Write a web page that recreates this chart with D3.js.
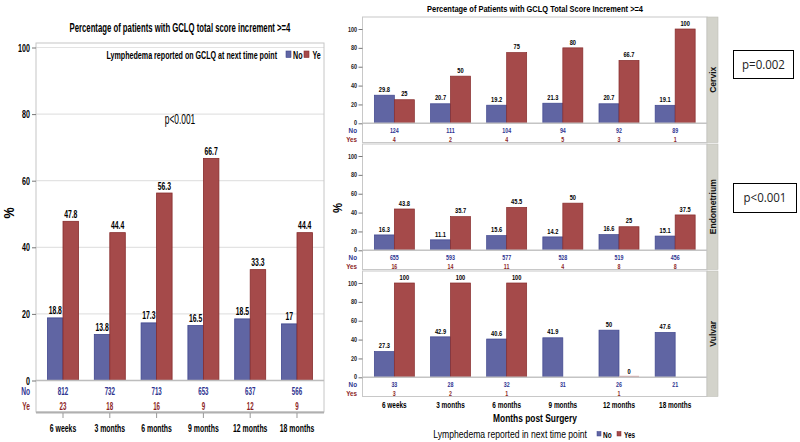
<!DOCTYPE html>
<html><head><meta charset="utf-8">
<script src="https://cdn.jsdelivr.net/npm/d3@7/dist/d3.min.js"></script>
<style>html,body{margin:0;padding:0;background:#fff}svg{display:block;font-family:"Liberation Sans",Arial,sans-serif}</style>
</head><body><svg id="c" width="800" height="442"></svg>
<script>
// ---------- data ----------
const categories = ["6 weeks","3 months","6 months","9 months","12 months","18 months"];
const groups = ["No","Yes"];
const ticks = [0,20,40,60,80,100];

// left chart: all patients
const allNo  = [18.8,13.8,17.3,16.5,18.5,17];
const allYes = [47.8,44.4,56.3,66.7,33.3,44.4];
const allCountNo  = [812,732,713,653,637,566];
const allCountYes = [23,18,16,9,12,9];

// right chart: by cancer site
const panelNames = ["Cervix","Endometrium","Vulvar"];
const cervixNo  = [29.8,20.7,19.2,21.3,20.7,19.1];
const cervixYes = [25,50,75,80,66.7,100];
const cervixCountNo  = [124,111,104,94,92,89];
const cervixCountYes = [4,2,4,5,3,1];
const endoNo  = [16.3,11.1,15.6,14.2,16.6,15.1];
const endoYes = [43.8,35.7,45.5,50,25,37.5];
const endoCountNo  = [655,593,577,528,519,456];
const endoCountYes = [16,14,11,4,8,8];
const vulvarNo  = [27.3,42.9,40.6,41.9,50,47.6];
const vulvarYes = [100,100,100,null,0,null];
const vulvarCountNo  = [33,28,32,31,26,21];
const vulvarCountYes = [3,2,1,null,1,null];
const pValues = ["p=0.002","p<0.001"];

const leftTitle = "Percentage of patients with GCLQ total score increment >=4";
const leftLegend = "Lymphedema reported on GCLQ at next time point";
const leftLegendKeys = ["No","Ye"];
const leftP = "p<0.001";
const rightTitle = "Percentage of Patients with GCLQ Total Score Increment >=4";
const rightXTitle = "Months post Surgery";
const rightLegend = "Lymphedema reported in next time point";

// ---------- styles ----------
const fillC = {No:"#6065a3", Yes:"#a54a4a"};
const strokeC = {No:"#3f468e", Yes:"#872c2c"};
const textC = {No:"#2e3390", Yes:"#8d1f1f"};

const svg = d3.select("#c");

function T(sel, x, y, s, o={}) {
  const sx = o.sx || 1;
  const tr = `translate(${x},${y})` + (o.rot ? " rotate(-90)" : "") + ` scale(${sx},1)`;
  return sel.append("text").attr("transform", tr)
    .attr("text-anchor", o.anchor || "middle")
    .attr("font-size", o.size || 10)
    .attr("font-weight", o.weight || "bold")
    .attr("font-family", o.family || null)
    .attr("fill", o.fill || "#000")
    .text(s);
}

// ================= LEFT CHART =================
const L = {x0:36, x1:324, top:43, zero:380.5, y100:47.5, bottom:412};
const SXL = 0.62;
const yL = d3.scaleLinear([0,100],[L.zero,L.y100]);
const xL = d3.scaleBand(categories,[L.x0,L.x1]).paddingInner(0).paddingOuter(0.077);
const xLs = d3.scaleBand(groups,[0,xL.bandwidth()]).paddingInner(0).paddingOuter(0.51);

const gl = svg.append("g");
T(gl, 180, 32, leftTitle, {size:12.5, sx:SXL});
// grid
gl.selectAll("line.grid").data(ticks.filter(t=>t>0)).join("line")
  .attr("x1",L.x0).attr("x2",L.x1).attr("y1",d=>yL(d)).attr("y2",d=>yL(d))
  .attr("stroke","#e3e3e3").attr("stroke-width",1.2);
// frame
gl.append("rect").attr("x",L.x0).attr("y",L.top).attr("width",L.x1-L.x0).attr("height",L.bottom-L.top)
  .attr("fill","none").attr("stroke","#c6c6c6").attr("stroke-width",1);
gl.append("line").attr("x1",L.x0).attr("x2",L.x1).attr("y1",L.bottom+0.5).attr("y2",L.bottom+0.5)
  .attr("stroke","#b0b0b0").attr("stroke-width",2);
// y axis ticks
const ylAxis = gl.append("g").attr("transform",`translate(${L.x0},0)`)
  .call(d3.axisLeft(yL).tickValues(ticks).tickSize(4).tickFormat(""));
ylAxis.select(".domain").remove();
ylAxis.selectAll("line").attr("stroke","#777");
ticks.forEach(t => T(gl, 30, yL(t)+4, String(t), {anchor:"end", size:11.5, sx:SXL}));
T(gl, 14, 213, "%", {rot:true, size:14, sx:0.9});
// bottom category ticks
gl.selectAll("line.ct").data(categories).join("line")
  .attr("x1",d=>xL(d)+xL.bandwidth()/2).attr("x2",d=>xL(d)+xL.bandwidth()/2)
  .attr("y1",L.bottom+1).attr("y2",L.bottom+6).attr("stroke","#999");
// bars
const leftRows = categories.map((c,i)=>({c, No:allNo[i], Yes:allYes[i]}));
leftRows.forEach(r => {
  groups.forEach(g => {
    const v = r[g];
    const x = xL(r.c) + xLs(g);
    gl.append("rect").attr("x",x).attr("y",yL(v)).attr("width",xLs.bandwidth()).attr("height",yL(0)-yL(v))
      .attr("fill",fillC[g]).attr("stroke",strokeC[g]).attr("stroke-width",0.8);
    T(gl, x + xLs.bandwidth()/2, yL(v)-3.5, String(v), {size:11, sx:SXL});
  });
});
// zero line
gl.append("line").attr("x1",L.x0).attr("x2",L.x1).attr("y1",L.zero).attr("y2",L.zero)
  .attr("stroke","#bdbdbd").attr("stroke-width",1.5);
// table
T(gl, 30, 395, "No", {anchor:"end", size:11, sx:0.6, fill:textC.No});
T(gl, 30, 410, "Ye", {anchor:"end", size:11, sx:0.6, fill:textC.Yes});
categories.forEach((c,i)=>{
  const cx = xL(c)+xL.bandwidth()/2;
  T(gl, cx, 394.5, String(allCountNo[i]), {size:10, sx:SXL, fill:textC.No});
  T(gl, cx, 409.5, String(allCountYes[i]), {size:10, sx:SXL, fill:textC.Yes});
  T(gl, cx, 432, c, {size:11.5, sx:0.6});
});
// legend
T(gl, 277, 58.5, leftLegend, {anchor:"end", size:11.5, sx:SXL});
gl.append("rect").attr("x",286).attr("y",51).attr("width",5).attr("height",6.5).attr("fill",fillC.No).attr("stroke",strokeC.No).attr("stroke-width",0.6);
T(gl, 293, 58.5, leftLegendKeys[0], {anchor:"start", size:11.5, sx:SXL});
gl.append("rect").attr("x",304).attr("y",51).attr("width",5).attr("height",6.5).attr("fill",fillC.Yes).attr("stroke",strokeC.Yes).attr("stroke-width",0.6);
T(gl, 312.5, 58.5, leftLegendKeys[1], {anchor:"start", size:11.5, sx:SXL});
T(gl, 180, 124, leftP, {size:14, sx:0.6, weight:"normal"});

// ================= RIGHT CHART =================
const R = {x0:362.5, x1:707, stripW:11, top0:17, step:127, h:125.5};
const SXR = 0.76;
const xR = d3.scaleBand(categories,[R.x0,R.x1]).paddingInner(0).paddingOuter(0.067);
const xRs = d3.scaleBand(groups,[0,xR.bandwidth()]).paddingInner(0).paddingOuter(0.404);
const gr = svg.append("g");
T(gr, 535, 12, rightTitle, {size:9, sx:0.83});

const panelData = [
  {name:panelNames[0], no:cervixNo, yes:cervixYes, cno:cervixCountNo, cyes:cervixCountYes},
  {name:panelNames[1], no:endoNo, yes:endoYes, cno:endoCountNo, cyes:endoCountYes},
  {name:panelNames[2], no:vulvarNo, yes:vulvarYes, cno:vulvarCountNo, cyes:vulvarCountYes}
];
panelData.forEach((p,pi)=>{
  const top = R.top0 + pi*R.step;
  const yR = d3.scaleLinear([0,100],[top+106.3, top+12]);
  const g = gr.append("g");
  g.append("rect").attr("x",R.x0).attr("y",top).attr("width",R.x1-R.x0).attr("height",R.h)
    .attr("fill","#fff").attr("stroke","#c8c8c8").attr("stroke-width",1);
  // strip
  g.append("rect").attr("x",R.x1).attr("y",top).attr("width",R.stripW).attr("height",R.h)
    .attr("fill","#d3d3cb").attr("stroke","#c0c0b8").attr("stroke-width",0.6);
  T(g, R.x1+R.stripW/2+3.3, top+R.h/2, p.name, {rot:true, size:9, sx:0.95, fill:"#111"});
  // axis
  const ax = g.append("g").attr("transform",`translate(${R.x0},0)`)
    .call(d3.axisLeft(yR).tickValues(ticks).tickSize(4).tickFormat(""));
  ax.select(".domain").remove();
  ax.selectAll("line").attr("stroke","#777");
  ticks.forEach(t => T(g, 357, yR(t)+(t===0?1.2:2.6), String(t), {anchor:"end", size:7.2, sx:SXR, fill:"#222"}));
  // bars
  categories.forEach((c,i)=>{
    [["No",p.no[i]],["Yes",p.yes[i]]].forEach(([grp,v])=>{
      if (v === null) return;
      const x = xR(c) + xRs(grp);
      if (v === 0) {
        g.append("rect").attr("x",x).attr("y",yR(0)-1.5).attr("width",xRs.bandwidth()).attr("height",1.5)
          .attr("fill","#d8a8a8");
      } else {
        g.append("rect").attr("x",x).attr("y",yR(v)).attr("width",xRs.bandwidth()).attr("height",yR(0)-yR(v))
          .attr("fill",fillC[grp]).attr("stroke",strokeC[grp]).attr("stroke-width",0.7);
      }
      T(g, x + xRs.bandwidth()/2, yR(v)-3.3, String(v), {size:7.5, sx:SXR});
    });
    const cx = xR(c)+xR.bandwidth()/2;
    T(g, cx, top+116, String(p.cno[i]), {size:7, sx:SXR, fill:textC.No});
    if (p.cyes[i] !== null) T(g, cx, top+125, String(p.cyes[i]), {size:7, sx:SXR, fill:textC.Yes});
  });
  g.append("line").attr("x1",R.x0).attr("x2",R.x1).attr("y1",yR(0)).attr("y2",yR(0))
    .attr("stroke","#c4c4c4").attr("stroke-width",1.5);
  T(g, 357, top+116, "No", {anchor:"end", size:7, sx:0.9, fill:textC.No});
  T(g, 357, top+125, "Yes", {anchor:"end", size:7, sx:0.9, fill:textC.Yes});
});
T(gr, 342, 208, "%", {rot:true, size:12, sx:0.95});
categories.forEach(c => T(gr, xR(c)+xR.bandwidth()/2, 407.5, c, {size:8.5, sx:SXR}));
T(gr, 535, 421.5, rightXTitle, {size:10.5, sx:0.8});
T(gr, 587, 437.5, rightLegend, {anchor:"end", size:10.5, sx:0.82, weight:"normal"});
gr.append("rect").attr("x",597).attr("y",431.5).attr("width",4).attr("height",4.5).attr("fill",fillC.No).attr("stroke",strokeC.No).attr("stroke-width",0.5);
T(gr, 603, 437.5, "No", {anchor:"start", size:8.5, sx:SXR});
gr.append("rect").attr("x",617).attr("y",431.5).attr("width",4).attr("height",4.5).attr("fill",fillC.Yes).attr("stroke",strokeC.Yes).attr("stroke-width",0.5);
T(gr, 624, 437.5, "Yes", {anchor:"start", size:8.5, sx:SXR});

// p-value boxes
const pBoxes = [{x:733,y:50,w:60,h:28},{x:733,y:183,w:63,h:29}];
pBoxes.forEach((b,i)=>{
  svg.append("rect").attr("x",b.x+0.5).attr("y",b.y+0.5).attr("width",b.w).attr("height",b.h)
    .attr("fill","#fff").attr("stroke","#000").attr("stroke-width",1);
  T(svg, b.x+b.w/2+0.5, b.y+b.h/2+4.5, pValues[i], {size:12.5, weight:"normal", family:"'Open Sans','Liberation Sans',sans-serif", fill:"#222", sx:0.92});
});
</script></body></html>
